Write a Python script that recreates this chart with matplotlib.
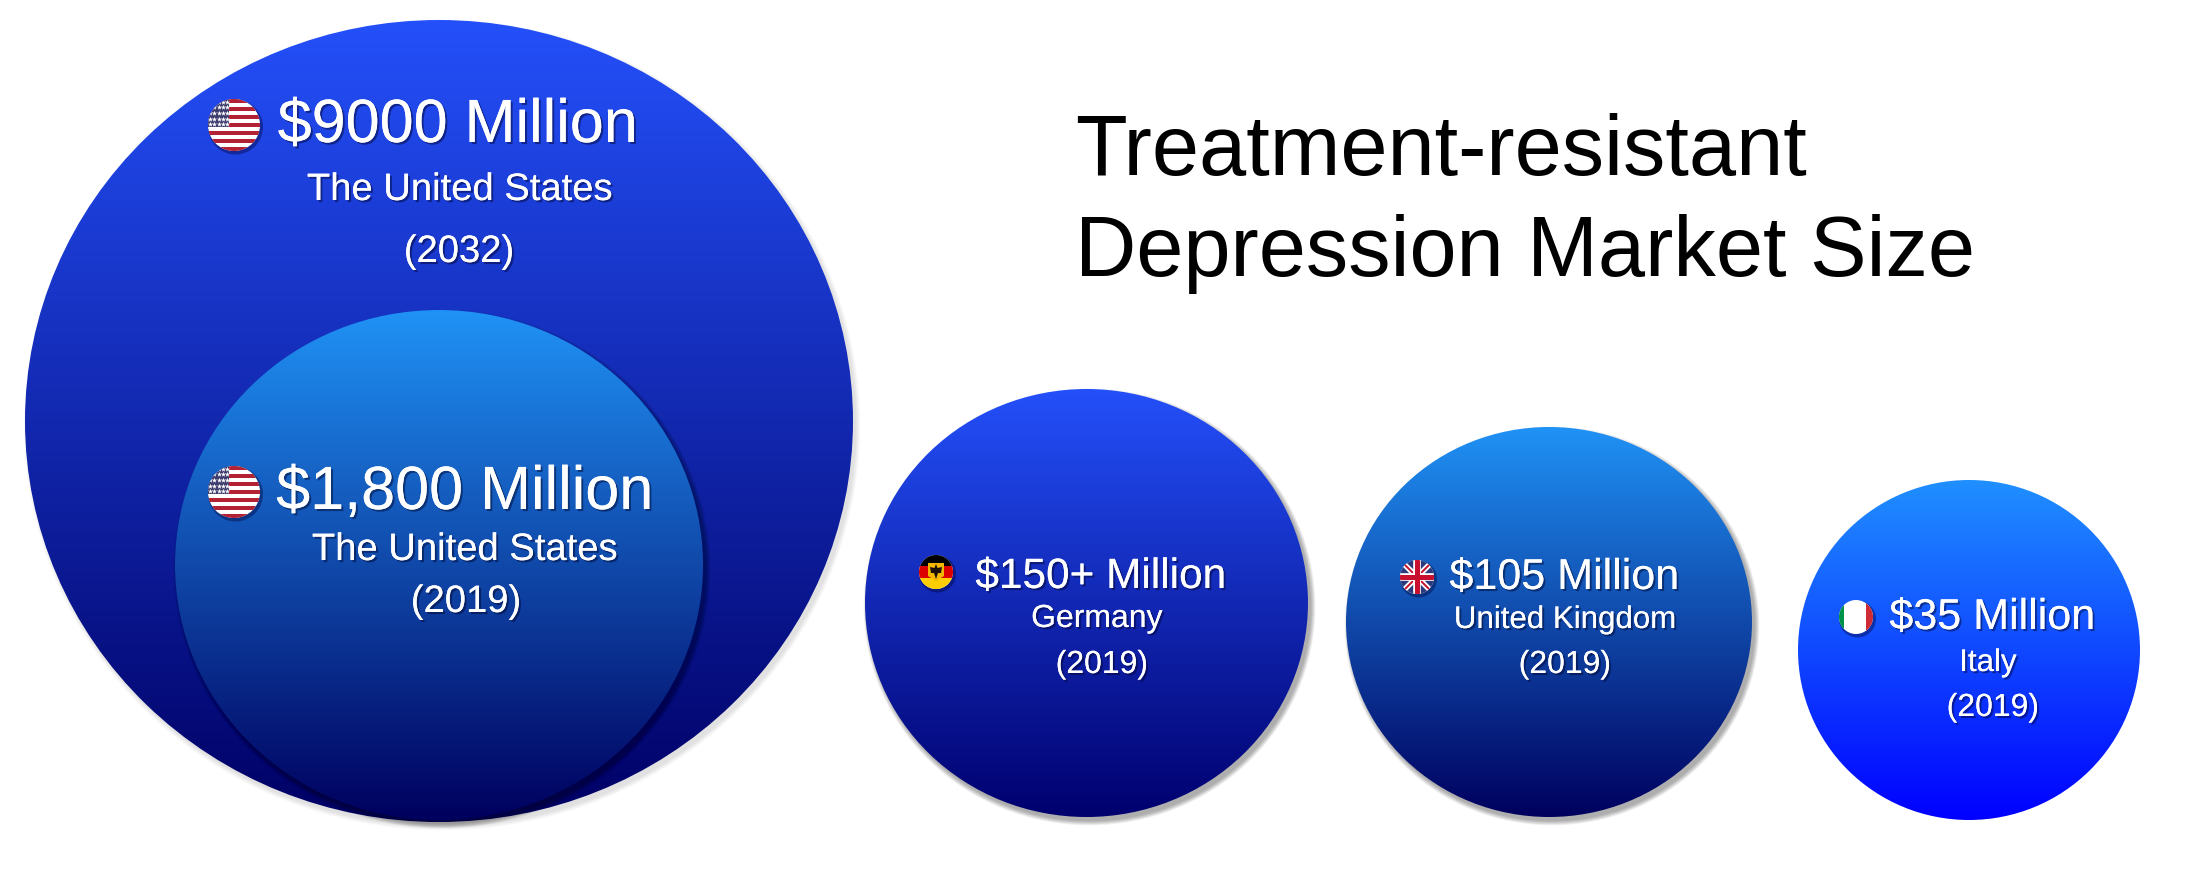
import numpy as np
import matplotlib
matplotlib.use("Agg")
import matplotlib.pyplot as plt
import matplotlib.patheffects as pe
from matplotlib.colors import LinearSegmentedColormap
from matplotlib.patches import Ellipse, Rectangle, Polygon

plt.rcParams["font.family"] = ["Liberation Sans", "DejaVu Sans"]

W, H = 2210, 888

# chart content
amounts = ["$9000 Million", "$1,800 Million", "$150+ Million", "$105 Million", "$35 Million"]
regions = ["The United States", "The United States", "Germany", "United Kingdom", "Italy"]
years = ["(2032)", "(2019)", "(2019)", "(2019)", "(2019)"]
flags = ["us", "us", "de", "uk", "it"]
title_lines = ["Treatment-resistant", "Depression Market Size"]

# bubbles, left/right/top/bottom in pixels
bubble_x0 = [25, 175, 865, 1346, 1798]
bubble_x1 = [853, 703, 1308, 1752, 2140]
bubble_y0 = [20, 310, 389, 427, 480]
bubble_y1 = [822, 820, 817, 817, 820]
top_colors = ["#2450FA", "#2092F6", "#2450FA", "#2092F6", "#2090FF"]
bottom_colors = ["#000064", "#00005E", "#00006E", "#00005E", "#0000FF"]
shadow_alpha = [0.012, 0.035, 0.035, 0.035, 0.0]

# label layout: centre x and baseline y
amount_x = [458, 465, 1101, 1564, 1992]
amount_y = [142, 509, 588, 589, 629]
amount_size = [44, 44, 30.5, 31, 31]
region_x = [460, 465, 1097, 1565, 1988]
region_y = [200, 560, 627, 628, 671]
region_size = [27.5, 27.5, 23, 22.5, 22.5]
year_x = [459, 466, 1102, 1565, 1993]
year_y = [262, 612, 673, 673, 716]
year_size = [27.5, 27.5, 23, 23, 23]
flag_x = [234, 234, 936, 1417, 1856]
flag_y = [125, 492, 572, 577, 617]
flag_r = [26, 26, 17, 17, 17]


def draw_bubble(ax, x0, x1, y0, y1, top, bottom, alpha, zorder):
    cx, cy = (x0 + x1) / 2, (y0 + y1) / 2
    w, h = x1 - x0, y1 - y0
    # soft shadow to the lower right
    if alpha > 0:
        for grow in range(0, 10):
            ax.add_patch(Ellipse((cx + 3, cy + 4), w + grow, h + grow, fc="black",
                                 ec="none", alpha=alpha, zorder=zorder))
    cmap = LinearSegmentedColormap.from_list("fill", [top, bottom])
    grad = np.linspace(0, 1, 256).reshape(-1, 1)
    im = ax.imshow(grad, cmap=cmap, extent=(x0, x1, y1, y0), aspect="auto", zorder=zorder + 0.1)
    clip = Ellipse((cx, cy), w, h, fc="none", ec="none", zorder=zorder + 0.1)
    ax.add_patch(clip)
    im.set_clip_path(clip)


def draw_flag(ax, kind, cx, cy, r, zorder):
    ax.add_patch(Ellipse((cx + 1.5, cy + 2), 2 * r + 3, 2 * r + 3, fc="#000033", ec="none",
                         alpha=0.4, zorder=zorder - 0.1))
    clip = Ellipse((cx, cy), 2 * r, 2 * r, fc="white", ec="none", zorder=zorder)
    ax.add_patch(clip)
    items = []
    if kind == "us":
        band = 2 * r / 13
        for i in range(0, 13, 2):
            items.append(ax.add_patch(Rectangle((cx - r, cy - r + i * band), 2 * r, band,
                                                fc="#B22234", ec="none", zorder=zorder + 0.1)))
        items.append(ax.add_patch(Rectangle((cx - r, cy - r), r * 0.82, band * 7, fc="#3C3B6E",
                                            ec="none", zorder=zorder + 0.2)))
        sx = [cx - r + r * 0.82 * (i + 0.5) / 5 for i in range(5)]
        sy = [cy - r + band * 7 * (j + 0.5) / 5 for j in range(5)]
        xx, yy = np.meshgrid(sx, sy)
        items.append(ax.scatter(xx.ravel(), yy.ravel(), s=r * 0.6, marker="*", c="white",
                                linewidths=0, zorder=zorder + 0.3))
    elif kind == "de":
        items.append(ax.add_patch(Rectangle((cx - r, cy - r), 2 * r, 2 * r / 3, fc="black", ec="none", zorder=zorder + 0.1)))
        items.append(ax.add_patch(Rectangle((cx - r, cy - r / 3), 2 * r, 2 * r / 3, fc="#DD0000", ec="none", zorder=zorder + 0.1)))
        items.append(ax.add_patch(Rectangle((cx - r, cy + r / 3), 2 * r, 2 * r / 3, fc="#FFCE00", ec="none", zorder=zorder + 0.1)))
        ax.add_patch(Polygon([(cx - 8, cy - 9), (cx + 8, cy - 9), (cx + 8, cy + 4), (cx, cy + 9), (cx - 8, cy + 4)],
                             fc="#F2B800", ec="none", zorder=zorder + 0.2))
        ax.add_patch(Polygon([(cx - 6, cy - 5), (cx - 1.5, cy - 4), (cx, cy - 8), (cx + 1.5, cy - 4), (cx + 6, cy - 5),
                              (cx + 5, cy + 1), (cx + 2, cy + 1), (cx, cy + 7), (cx - 2, cy + 1), (cx - 5, cy + 1)],
                             fc="#1A1008", ec="none", zorder=zorder + 0.3))
    elif kind == "uk":
        items.append(ax.add_patch(Rectangle((cx - r, cy - r), 2 * r, 2 * r, fc="#2A3A7C", ec="none", zorder=zorder + 0.1)))
        for sx, sy in [(1, 1), (1, -1)]:
            items += ax.plot([cx - sx * r, cx + sx * r], [cy - sy * r, cy + sy * r], color="white", lw=4, zorder=zorder + 0.2)
            items += ax.plot([cx - sx * r, cx + sx * r], [cy - sy * r, cy + sy * r], color="#C8102E", lw=1.4, zorder=zorder + 0.3)
        items += ax.plot([cx - r, cx + r], [cy, cy], color="white", lw=5.5, zorder=zorder + 0.4)
        items += ax.plot([cx, cx], [cy - r, cy + r], color="white", lw=5.5, zorder=zorder + 0.4)
        items += ax.plot([cx - r, cx + r], [cy, cy], color="#C8102E", lw=3.6, zorder=zorder + 0.5)
        items += ax.plot([cx, cx], [cy - r, cy + r], color="#C8102E", lw=3.6, zorder=zorder + 0.5)
    elif kind == "it":
        items.append(ax.add_patch(Rectangle((cx - r, cy - r), 0.28 * r, 2 * r, fc="#009246", ec="none", zorder=zorder + 0.1)))
        items.append(ax.add_patch(Rectangle((cx + 0.58 * r, cy - r), 0.42 * r, 2 * r, fc="#CE2B37", ec="none", zorder=zorder + 0.1)))
    for item in items:
        item.set_clip_path(clip)


def draw_label(ax, x, y, text, size):
    shadow = [pe.withSimplePatchShadow(offset=(1.5, -1.5), shadow_rgbFace="#000022", alpha=0.45), pe.Normal()]
    ax.text(x, y, text, color="white", fontsize=size, ha="center", va="baseline",
            path_effects=shadow, zorder=20)


def main():
    fig = plt.figure(figsize=(W / 100, H / 100), dpi=100, facecolor="white")
    ax = fig.add_axes([0, 0, 1, 1])

    for i in range(len(amounts)):
        draw_bubble(ax, bubble_x0[i], bubble_x1[i], bubble_y0[i], bubble_y1[i],
                    top_colors[i], bottom_colors[i], shadow_alpha[i], 1 + i)

    for i in range(len(amounts)):
        draw_flag(ax, flags[i], flag_x[i], flag_y[i], flag_r[i], 15)
        draw_label(ax, amount_x[i], amount_y[i], amounts[i], amount_size[i])
        draw_label(ax, region_x[i], region_y[i], regions[i], region_size[i])
        draw_label(ax, year_x[i], year_y[i], years[i], year_size[i])

    ax.text(1075, 175, title_lines[0], fontsize=61, color="black", va="baseline")
    ax.text(1075, 276, title_lines[1], fontsize=61, color="black", va="baseline")

    ax.set_xlim(0, W)
    ax.set_ylim(H, 0)
    ax.axis("off")
    fig.savefig("out.png", dpi=100, facecolor="white")
    plt.close(fig)


if __name__ == "__main__":
    main()
